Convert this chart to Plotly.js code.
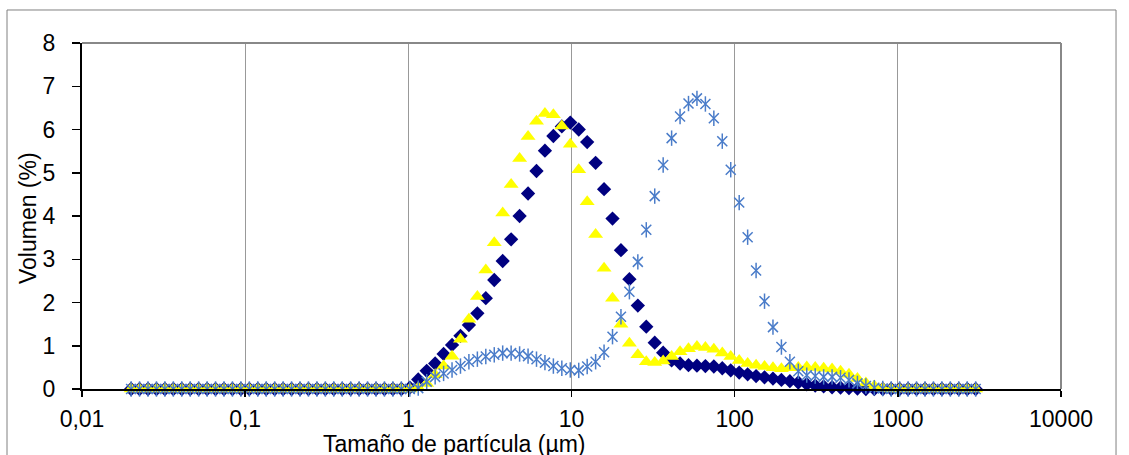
<!DOCTYPE html>
<html>
<head>
<meta charset="utf-8">
<script src="https://cdn.plot.ly/plotly-3.0.1.min.js"></script>
<style>
  html, body { margin: 0; padding: 0; background: #ffffff; }
  #chart { width: 1129px; height: 455px; }
</style>
</head>
<body>
<div id="chart"></div>
<script>
// Particle size classes (µm)
const sizes = [0.02,0.02253,0.02538,0.0286,0.03221,0.03629,0.04088,0.04605,0.05188,0.05845,
0.06584,0.07418,0.08356,0.09414,0.1061,0.1195,0.1346,0.1517,0.1709,0.1925,
0.2168,0.2443,0.2753,0.3101,0.3493,0.3936,0.4433,0.4994,0.5626,0.6338,
0.714,0.8044,0.9062,1.021,1.150,1.296,1.460,1.645,1.853,2.087,
2.351,2.649,2.984,3.362,3.787,4.266,4.808,5.417,6.102,6.874,
7.744,8.724,9.831,11.075,12.476,14.055,15.834,17.838,20.095,22.638,
25.502,28.729,32.365,36.461,41.075,46.273,52.128,58.725,66.156,74.53,
83.96,94.59,106.6,120.1,135.3,152.4,171.7,193.4,217.9,245.5,
276.6,311.6,351.0,395.4,445.5,501.9,565.4,636.9,717.6,808.4,
910.7,1026,1156,1302,1467,1653,1862,2098,2363,2662,
3000];

// Volume (%) – navy diamonds
const serieDiamante = [0,0,0,0,0,0,0,0,0,0,
0,0,0,0,0,0,0,0,0,0,
0,0,0,0,0,0,0,0,0,0,
0,0,0,0.03,0.22,0.42,0.59,0.81,1.02,1.23,
1.48,1.75,2.10,2.52,2.96,3.46,4.00,4.52,5.04,5.51,
5.85,6.07,6.16,6.00,5.71,5.23,4.62,3.94,3.21,2.54,
1.93,1.44,1.07,0.84,0.66,0.59,0.55,0.54,0.53,0.52,
0.48,0.43,0.38,0.34,0.30,0.27,0.24,0.21,0.18,0.15,
0.11,0.08,0.06,0.04,0.03,0.02,0.01,0,0,0,
0,0,0,0,0,0,0,0,0,0,
0];

// Volume (%) – yellow triangles
const serieTriangulo = [0,0,0,0,0,0,0,0,0,0,
0,0,0,0,0,0,0,0,0,0,
0,0,0,0,0,0,0,0,0,0,
0,0,0,0,0.03,0.13,0.33,0.53,0.76,1.15,
1.61,2.14,2.75,3.38,4.07,4.73,5.33,5.84,6.19,6.37,
6.34,6.08,5.66,5.07,4.33,3.57,2.79,2.10,1.50,1.06,
0.79,0.63,0.61,0.65,0.75,0.86,0.93,0.98,0.96,0.92,
0.83,0.75,0.66,0.59,0.55,0.52,0.49,0.47,0.49,0.50,
0.51,0.50,0.48,0.46,0.41,0.34,0.24,0.14,0.07,0.02,
0,0,0,0,0,0,0,0,0,0,
0];

// Volume (%) – blue asterisks
const serieAsterisco = [0,0,0,0,0,0,0,0,0,0,
0,0,0,0,0,0,0,0,0,0,
0,0,0,0,0,0,0,0,0,0,
0,0,0,0,0.02,0.17,0.28,0.36,0.44,0.53,
0.63,0.69,0.75,0.79,0.83,0.83,0.81,0.76,0.69,0.61,
0.53,0.48,0.44,0.43,0.52,0.63,0.85,1.21,1.67,2.25,
2.94,3.68,4.46,5.18,5.80,6.30,6.60,6.72,6.59,6.26,
5.73,5.07,4.31,3.51,2.74,2.03,1.43,0.97,0.63,0.41,
0.32,0.30,0.28,0.28,0.26,0.21,0.13,0.07,0.03,0.01,
0,0,0,0,0,0,0,0,0,0,
0];

const xTickVals = [0.01, 0.1, 1, 10, 100, 1000, 10000];
const xTickText = ['0,01', '0,1', '1', '10', '100', '1000', '10000'];
const yTickVals = [0, 1, 2, 3, 4, 5, 6, 7, 8];
const xTitle = 'Tamaño de partícula (µm)';
const yTitle = 'Volumen (%)';

const FONT = 'Liberation Sans, Arial, sans-serif';
const BLUE = '#4a7cc9';

const traces = [
  { x: sizes, y: serieDiamante, type: 'scatter', mode: 'markers', cliponaxis: false,
    marker: { symbol: 'diamond', size: 11, color: '#000080', line: { width: 0 } }, hoverinfo: 'skip' },
  { x: sizes, y: serieTriangulo, type: 'scatter', mode: 'markers', cliponaxis: false,
    marker: { symbol: 'triangle-up', size: 13, color: '#ffff00', line: { width: 0 } }, hoverinfo: 'skip' },
  { x: sizes, y: serieAsterisco, type: 'scatter', mode: 'markers', cliponaxis: false,
    marker: { symbol: 'x-thin-open', size: 10, color: BLUE, line: { width: 1.5, color: BLUE } }, hoverinfo: 'skip' },
  { x: sizes, y: serieAsterisco, type: 'scatter', mode: 'markers', cliponaxis: false,
    marker: { symbol: 'line-ns-open', size: 11, color: BLUE, line: { width: 1.5, color: BLUE } }, hoverinfo: 'skip' }
];

const layout = {
  width: 1129, height: 455,
  margin: { l: 82, r: 68, t: 43, b: 66, pad: 0 },
  paper_bgcolor: '#ffffff', plot_bgcolor: '#ffffff',
  showlegend: false,
  font: { family: FONT, size: 23, color: '#000000' },
  xaxis: {
    type: 'log', range: [-2, 4],
    tickmode: 'array', tickvals: xTickVals, ticktext: xTickText,
    ticks: 'outside', ticklen: 6, tickwidth: 1.5, tickcolor: '#000000',
    showline: true, linecolor: '#000000', linewidth: 2,
    showgrid: true, gridcolor: '#999999', gridwidth: 1,
    zeroline: false, ticklabelstandoff: 2,
    tickfont: { family: FONT, size: 23, color: '#000000' }
  },
  yaxis: {
    range: [0, 8], tickmode: 'array', tickvals: yTickVals,
    ticks: 'outside', ticklen: 8, tickwidth: 1.5, tickcolor: '#000000',
    showline: true, linecolor: '#000000', linewidth: 2,
    showgrid: false, zeroline: false, ticklabelstandoff: 12,
    tickfont: { family: FONT, size: 23, color: '#000000' }
  },
  shapes: [
    { type: 'line', xref: 'paper', yref: 'paper', x0: 0, x1: 1, y0: 1, y1: 1,
      line: { color: '#888888', width: 2 } },
    { type: 'line', xref: 'paper', yref: 'paper', x0: 1, x1: 1, y0: 0, y1: 1,
      line: { color: '#888888', width: 2 } },
    { type: 'rect', xref: 'paper', yref: 'paper', x0: -0.0766, x1: 1.0562, y0: -0.35, y1: 1.0954,
      line: { color: '#808080', width: 1 }, layer: 'below' }
  ],
  annotations: [
    { text: xTitle, xref: 'paper', yref: 'paper', x: 0.380, y: -0.116, xanchor: 'center', yanchor: 'top',
      showarrow: false, font: { family: FONT, size: 23, color: '#000000' } },
    { text: yTitle, xref: 'paper', yref: 'paper', x: -0.0552, y: 0.494, xanchor: 'center', yanchor: 'middle',
      textangle: -90, showarrow: false, font: { family: FONT, size: 23, color: '#000000' } }
  ]
};

Plotly.newPlot('chart', traces, layout, { staticPlot: true, displayModeBar: false });
</script>
</body>
</html>
